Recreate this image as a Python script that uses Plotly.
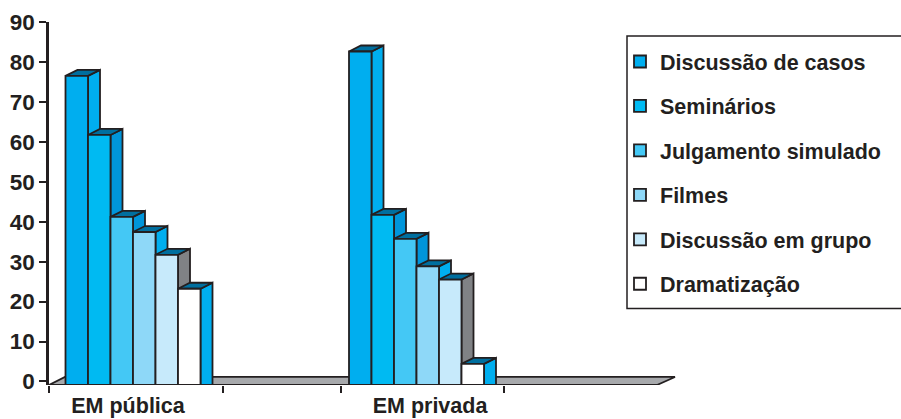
import plotly.graph_objects as go

groups = ["EM pública", "EM privada"]
series = ["Discussão de casos", "Seminários", "Julgamento simulado", "Filmes", "Discussão em grupo", "Dramatização"]
publica = [77.4, 62.6, 42.1, 38.3, 32.6, 24.1]
privada = [83.5, 42.6, 36.6, 29.7, 26.4, 5.3]
y_ticks = [0, 10, 20, 30, 40, 50, 60, 70, 80, 90]

front_colors = ["#00AEEF", "#00BAF2", "#44C8F5", "#8ED8F8", "#C7EAFB", "#FFFFFF"]
side_colors = ["#00AEEF", "#0095DA", "#0095DA", "#00AEEF", "#808285", "#00AEEF"]
TOP = "#006F9F"
FLOOR = "#A7A9AC"
INK = "#231F20"
FONT = "Liberation Sans, Arial, sans-serif"

# Axis geometry: the x axis is in plot pixels, depth offsets in axis units
X_MAX = 630
Y_MIN = -0.88
GROUP_LEFT = [16.5, 300]
LABEL_X = [79, 381]
MARK_X = [0, 174, 292, 455]
BAR_W = 22.5
DX = 12
DY = 1.5
DROP = -Y_MIN
STROKE = 1.8

fig = go.Figure()


def face(xs, ys, color):
    fig.add_trace(go.Scatter(
        x=xs, y=ys, mode="lines", fill="toself", fillcolor=color,
        line=dict(color=INK, width=STROKE), cliponaxis=False,
        showlegend=False, hoverinfo="skip", xaxis="x", yaxis="y",
    ))


# floor
face([0, 16, 626, 608, 0], [-DROP, 1.13, 1.13, -DROP, -DROP], FLOOR)

values = [publica, privada]
for g, left in enumerate(GROUP_LEFT):
    for i in range(len(series)):
        v = values[g][i] - DROP
        r = left + (i + 1) * BAR_W
        face([r, r + DX, r + DX, r, r], [v, v + DY, -DROP, -DROP, v], side_colors[i])
        face([r - BAR_W, r - BAR_W + DX, r + DX, r, r - BAR_W], [v, v + DY, v + DY, v, v], TOP)

for i, name in enumerate(series):
    fig.add_trace(go.Bar(
        name=name,
        x=[left + (i + 0.5) * BAR_W for left in GROUP_LEFT],
        y=[publica[i], privada[i]],
        base=-DROP,
        width=BAR_W,
        marker=dict(color=front_colors[i], line=dict(color=INK, width=STROKE)),
        legendgroup=name,
        xaxis="x2", yaxis="y2",
    ))

fig.update_layout(
    width=901, height=419, autosize=False,
    margin=dict(l=49, r=222, t=22, b=34, pad=0, autoexpand=False),
    paper_bgcolor="white", plot_bgcolor="white",
    barmode="overlay",
    font=dict(family=FONT, size=21, color=INK),
    xaxis=dict(range=[0, X_MAX], tickmode="array", tickvals=LABEL_X, ticktext=groups, automargin=False,
               ticks="", showgrid=False, zeroline=False, showline=False,
               tickfont=dict(family=FONT, size=21.5, color=INK, weight="bold"), ticklabelstandoff=5),
    xaxis2=dict(range=[0, X_MAX], overlaying="x", anchor="y", side="bottom", tickmode="array", automargin=False,
                tickvals=MARK_X, ticktext=["", "", "", ""], ticks="outside", ticklen=7, tickwidth=1.5,
                tickcolor=INK, showgrid=False, zeroline=False, showline=False),
    yaxis=dict(range=[Y_MIN, 90], tickmode="array", tickvals=y_ticks, ticks="outside", ticklen=7, automargin=False,
               tickwidth=2, tickcolor=INK, showgrid=False, zeroline=False, showline=True,
               linecolor=INK, linewidth=2.5,
               tickfont=dict(family=FONT, size=22.5, color=INK, weight="bold")),
    yaxis2=dict(range=[Y_MIN, 90], overlaying="y", visible=False, automargin=False),
    legend=dict(x=(620 - 49) / X_MAX, y=(385 - 41) / 363, xanchor="left", yanchor="top",
                tracegroupgap=13.5, bgcolor="rgba(0,0,0,0)", borderwidth=0,
                font=dict(family=FONT, size=21.5, color=INK, weight="bold")),
    shapes=[dict(type="rect", xref="paper", yref="paper",
                 x0=(627 - 49) / X_MAX, x1=(905 - 49) / X_MAX,
                 y0=(385 - 308.5) / 363, y1=(385 - 36) / 363,
                 line=dict(color=INK, width=1.5), fillcolor="rgba(0,0,0,0)")],
)

fig.write_html("out.html", config={"displayModeBar": False},
               post_script="document.body.style.margin='0';")
